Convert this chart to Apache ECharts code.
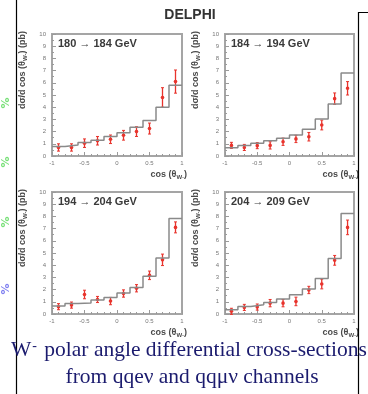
<!DOCTYPE html>
<html>
<head>
<meta charset="utf-8">
<script src="https://cdn.jsdelivr.net/npm/echarts@6/dist/echarts.min.js"></script>
<style>
html,body{margin:0;padding:0;background:#fff;}
#c{width:368px;height:394px;}
</style>
</head>
<body>
<div id="c"></div>
<script>
// ---- data ----
const binEdges = [-1, -0.8, -0.6, -0.4, -0.2, 0, 0.2, 0.4, 0.6, 0.8, 1];
const binCenters = [-0.9, -0.7, -0.5, -0.3, -0.1, 0.1, 0.3, 0.5, 0.7, 0.9];
const xTickValues = [-1, -0.5, 0, 0.5, 1];
const xTickLabels = ['-1', '-0.5', '0', '0.5', '1'];
const yTickLabels = ['0', '1', '2', '3', '4', '5', '6', '7', '8', '9', '10'];
const panelLabels = ['180 \u2192 184 GeV', '184 \u2192 194 GeV', '194 \u2192 204 GeV', '204 \u2192 209 GeV'];

// histogram (prediction) per panel
const hist180 = [0.77, 0.9, 1.1, 1.3, 1.6, 1.9, 2.35, 2.9, 4.0, 5.8];
const hist184 = [0.68, 0.87, 1.04, 1.26, 1.45, 1.72, 2.2, 3.03, 4.26, 6.8];
const hist194 = [0.65, 0.87, 0.9, 1.14, 1.35, 1.73, 2.17, 3.09, 4.6, 7.83];
const hist204 = [0.35, 0.62, 0.76, 0.95, 1.22, 1.57, 2.05, 2.92, 4.54, 8.24];
// measured points per panel
const data180 = [0.7, 0.7, 1.05, 1.25, 1.37, 1.7, 2.0, 2.25, 4.8, 6.1];
const data184 = [0.87, 0.7, 0.85, 0.87, 1.17, 1.4, 1.58, 2.54, 4.7, 5.55];
const data194 = [0.6, 0.73, 1.6, 1.19, 1.06, 1.68, 2.11, 3.17, 4.44, 7.1];
const data204 = [0.22, 0.54, 0.57, 0.89, 0.89, 1.03, 1.97, 2.46, 4.4, 7.1];
// errors per panel
const err180 = [0.3, 0.3, 0.35, 0.35, 0.35, 0.4, 0.4, 0.45, 0.8, 0.95];
const err184 = [0.25, 0.25, 0.25, 0.3, 0.3, 0.3, 0.35, 0.4, 0.47, 0.55];
const err194 = [0.25, 0.25, 0.35, 0.25, 0.3, 0.3, 0.3, 0.35, 0.47, 0.45];
const err204 = [0.25, 0.25, 0.25, 0.3, 0.3, 0.35, 0.3, 0.4, 0.4, 0.6];

const hists = [hist180, hist184, hist194, hist204];
const datas = [data180, data184, data194, data204];
const errs = [err180, err184, err194, err204];

// ---- layout ----
const grids = [
  {left: 52, top: 34, width: 130, height: 122},
  {left: 225, top: 34, width: 129, height: 122},
  {left: 52, top: 192, width: 130, height: 122},
  {left: 225, top: 192, width: 129, height: 122}
];
const gray = '#9a9a9a';
const txt = '#3a3a3a';
const red = '#e8332c';

const chart = echarts.init(document.getElementById('c'), null, {renderer: 'canvas'});

const xAxes = [], yAxes = [], series = [], graphics = [];
grids.forEach((g, i) => {
  xAxes.push({
    type: 'value', gridIndex: i, min: -1, max: 1, interval: 0.5, position: 'bottom',
    axisLine: {show: false, onZero: false},
    axisTick: {show: true, inside: true, length: 4, lineStyle: {color: gray, width: 1}},
    minorTick: {show: true, splitNumber: 5, length: 2, lineStyle: {color: gray}},
    splitLine: {show: false},
    axisLabel: {fontSize: 6, color: '#777', margin: 4, fontFamily: 'Liberation Sans',
      formatter: v => { const k = xTickValues.indexOf(v); return k >= 0 ? xTickLabels[k] : ''; }}
  });
  yAxes.push({
    type: 'value', gridIndex: i, min: 0, max: 10, interval: 1, position: 'left',
    axisLine: {show: false, onZero: false},
    axisTick: {show: true, inside: true, length: 4, lineStyle: {color: gray, width: 1}},
    minorTick: {show: true, splitNumber: 2, length: 2, lineStyle: {color: gray}},
    splitLine: {show: false},
    axisLabel: {fontSize: 6, color: '#777', margin: 6, fontFamily: 'Liberation Sans',
      formatter: v => yTickLabels[Math.round(v)] || ''}
  });
  const h = hists[i];
  const stepData = binEdges.map((e, k) => [e, h[Math.min(k, h.length - 1)]]);
  series.push({
    type: 'line', xAxisIndex: i, yAxisIndex: i, step: 'end', data: stepData,
    symbol: 'none', lineStyle: {color: '#8a8a8a', width: 1.5}, animation: false, silent: true
  });
  series.push({
    type: 'custom', xAxisIndex: i, yAxisIndex: i, animation: false, silent: true,
    data: binCenters.map((c, k) => [c, datas[i][k], errs[i][k]]),
    renderItem: (params, api) => {
      const x = api.value(0), y = api.value(1), e = api.value(2);
      const p = api.coord([x, y]);
      const lo = api.coord([x, y - e]);
      const hi = api.coord([x, y + e]);
      return {type: 'group', children: [
        {type: 'line', shape: {x1: p[0], y1: lo[1], x2: p[0], y2: hi[1]}, style: {stroke: red, lineWidth: 1.3}},
        {type: 'line', shape: {x1: p[0] - 1.5, y1: lo[1], x2: p[0] + 1.5, y2: lo[1]}, style: {stroke: red, lineWidth: 1}},
        {type: 'line', shape: {x1: p[0] - 1.5, y1: hi[1], x2: p[0] + 1.5, y2: hi[1]}, style: {stroke: red, lineWidth: 1}},
        {type: 'circle', shape: {cx: p[0], cy: p[1], r: 1.8}, style: {fill: red}}
      ]};
    }
  });
  // panel label
  graphics.push({type: 'text', left: g.left + 6, top: g.top + 4,
    style: {text: panelLabels[i], font: 'bold 11px "Liberation Sans"', fill: txt}});
  // y axis title (rotated)
  graphics.push({type: 'text', x: g.left - 29, y: g.top - 3, rotation: Math.PI / 2,
    style: {text: 'd\u03c3/d cos (\u03b8{s|W-}) (pb)', textAlign: 'right', textVerticalAlign: 'middle',
      font: 'bold 9px "Liberation Sans"', fill: '#4a4a4a',
      rich: {s: {fontSize: 6, fontWeight: 'bold', fontFamily: 'Liberation Sans', fill: '#4a4a4a', verticalAlign: 'bottom', padding: [4, 0, 0, 0]}}}});
  // x axis title
  graphics.push({type: 'text', x: g.left + g.width + 5, y: g.top + g.height + 19,
    style: {text: 'cos (\u03b8{s|W-})', textAlign: 'right', textVerticalAlign: 'middle',
      font: 'bold 9px "Liberation Sans"', fill: '#4a4a4a',
      rich: {s: {fontSize: 6, fontWeight: 'bold', fontFamily: 'Liberation Sans', fill: '#4a4a4a', verticalAlign: 'bottom', padding: [4, 0, 0, 0]}}}});
});

// page decorations
graphics.push({type: 'line', shape: {x1: 16.5, y1: 0, x2: 16.5, y2: 394}, style: {stroke: '#000', lineWidth: 1.2}});
graphics.push({type: 'polyline', shape: {points: [[368, 12.5], [358.5, 12.5], [358.5, 394]]}, style: {stroke: '#000', lineWidth: 1.2, fill: null}});
graphics.push({type: 'text', x: 190, y: 15, style: {text: 'DELPHI', textAlign: 'center', textVerticalAlign: 'middle', font: 'bold 14px "Liberation Sans"', fill: '#333'}});
[[103, '#77e077'], [162, '#77e077'], [222, '#77e077'], [289, '#8080f0']].forEach(([y, c]) => {
  graphics.push({type: 'text', x: 6, y: y, rotation: Math.PI / 2, style: {text: '%', textAlign: 'center', textVerticalAlign: 'middle', font: 'bold 11px "DejaVu Sans"', fill: c}});
});
graphics.push({type: 'text', x: 11, y: 361, style: {text: 'W{sup|-} polar angle differential cross-sections', textVerticalAlign: 'bottom',
  font: '21.5px "Liberation Serif"', fill: '#1b1b6e',
  rich: {sup: {fontSize: 14, fontFamily: 'Liberation Serif', fill: '#1b1b6e', verticalAlign: 'top', padding: [0, 2, 8, 1]}}}});
graphics.push({type: 'text', x: 192, y: 388, style: {text: 'from qqe\u03bd and qq\u03bc\u03bd channels', textAlign: 'center', textVerticalAlign: 'bottom',
  font: '21.5px "Liberation Serif"', fill: '#1b1b6e'}});

chart.setOption({
  animation: false,
  backgroundColor: '#fff',
  grid: grids.map(g => Object.assign({show: true, borderColor: '#a5a5a5', borderWidth: 2, backgroundColor: 'transparent'}, g)),
  xAxis: xAxes,
  yAxis: yAxes,
  series: series,
  graphic: graphics
});
</script>
</body>
</html>
